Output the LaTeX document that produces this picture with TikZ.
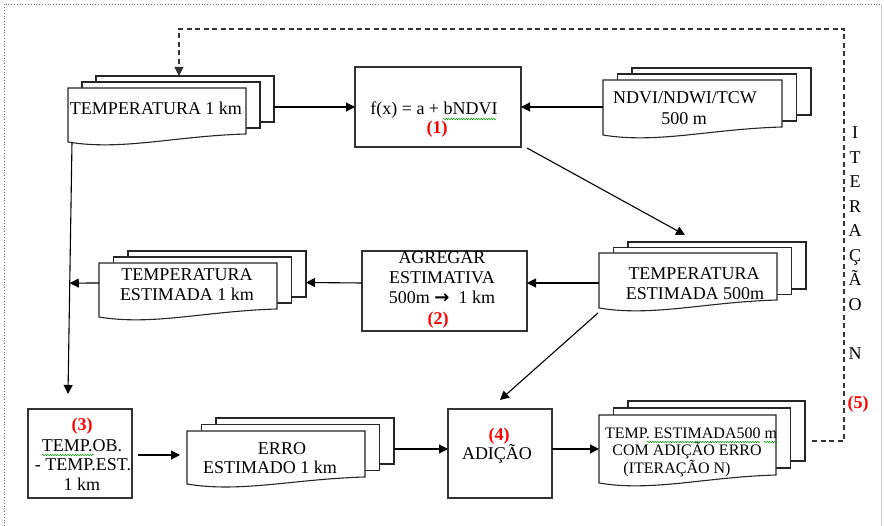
\documentclass[tikz,border=0pt]{standalone}
\usepackage{fontspec}
\setmainfont{Liberation Serif}
\newfontfamily\arrfont{DejaVu Sans}
\usetikzlibrary{arrows.meta,calc,decorations.pathmorphing}

\newcommand\mdoc[8]{%
  \pgfmathsetmacro\mdW{#4-#2}%
  \pgfmathsetmacro\mdH{#5-#3}%
  \node[docrect, minimum width=\mdW pt, minimum height=\mdH pt] (#1-b) at (#2+2*#7,#3-2*#8) {};
  \node[docrect, minimum width=\mdW pt, minimum height=\mdH pt] (#1-m) at (#2+#7,#3-#8) {};
  \draw[docline] (#2,#3) -- (#4,#3) -- (#4,#5)
     .. controls ({#2+0.6*\mdW},{#5+2}) and ({#2+0.3*\mdW},{#6+9}) .. (#2,#6) -- cycle;
  \node[docfront, minimum width=\mdW pt, minimum height=\mdH pt] (#1) at (#2,#3) {};
}

\begin{document}
\begin{tikzpicture}[x=1pt,y=-1pt, font=\fontsize{18}{21}\selectfont,
 docrect/.style={draw=black!85, line width=1.1pt, fill=white, anchor=north west, inner sep=0pt, outer sep=0pt},
 docfront/.style={draw=none, anchor=north west, inner sep=0pt, outer sep=0pt},
 docline/.style={draw=black!85, line width=1.1pt, fill=white},
 procbox/.style={draw=black!80, line width=1.2pt, anchor=north west, inner sep=0pt, outer sep=0pt},
 txt/.style={anchor=base, inner sep=0pt},
 smalltxt/.style={txt, font=\fontsize{16}{19}\selectfont},
 lbl/.style={txt, text=red, font=\fontsize{18}{21}\selectfont\bfseries},
 arr/.style={draw=black, line width=1.1pt, -{Triangle[length=9pt,width=9pt]}},
 looparr/.style={draw=black!80, line width=1.1pt, dash pattern=on 5pt off 3.5pt, -{Triangle[length=9pt,width=9pt]}},
 spell/.style={draw=green!60!black, line width=0.5pt, decorate, decoration={snake, amplitude=0.7pt, segment length=2.5pt}},
 framel/.style={draw=black!55, line width=0.8pt, dotted}]

\useasboundingbox (0,0) rectangle (884,526);

% outer frame
\draw[framel] (4,526) -- (4,4) -- (881,4);
\draw[black!20, line width=0.8pt] (881,4) -- (881,526);

% process boxes
\node[procbox, minimum width=166pt, minimum height=80pt] (fx) at (355,67) {};
\node[procbox, minimum width=165pt, minimum height=80pt] (ag) at (362,251) {};
\node[procbox, minimum width=104pt, minimum height=89pt] (b3) at (28,409) {};
\node[procbox, minimum width=104pt, minimum height=89pt] (add) at (448,409) {};

% multi-documents
\mdoc{tk}{68}{88}{246}{134}{142}{14}{6}
\mdoc{nd}{603}{80}{782}{127}{135}{14.5}{6}
\mdoc{te5}{599}{253}{777}{300}{308}{14.5}{5.5}
\mdoc{te1}{99}{263}{277}{309}{317}{14.5}{6}
\mdoc{er}{187}{431}{365}{477}{484}{14.5}{6.5}
\mdoc{fin}{599}{415}{776}{475}{483}{14.5}{7}

% texts
\node[txt] (tkT) at (156,115) {TEMPERATURA 1 km};
\node[txt] (fxT) at (434,115) {f(x) = a + bNDVI};
\node[lbl] (fxL) at (437,134) {(1)};
\node[txt] (ndT1) at (685,104) {NDVI/NDWI/TCW};
\node[txt] (ndT2) at (684,125) {500 m};
\node[txt] (te5T1) at (694,280) {TEMPERATURA};
\node[txt] (te5T2) at (695,300) {ESTIMADA 500m};
\node[txt] (agT1) at (442,264) {AGREGAR};
\node[txt] (agT2) at (442,284) {ESTIMATIVA};
\node[txt] (agT3) at (442,304) {500m\ {\arrfont\bfseries\fontsize{18}{20}\selectfont →}\ \ 1 km};
\node[lbl] (agL) at (438,325) {(2)};
\node[txt] (te1T1) at (187,281) {TEMPERATURA};
\node[txt] (te1T2) at (187,301) {ESTIMADA 1 km};
\node[lbl] (b3L) at (82,431) {(3)};
\node[txt] (b3T1) at (82,452) {TEMP.OB.};
\node[txt] (b3T2) at (83,471) {- TEMP.EST.};
\node[txt] (b3T3) at (82,491) {1 km};
\node[txt] (erT1) at (282,455) {ERRO};
\node[txt] (erT2) at (270,474) {ESTIMADO 1 km};
\node[lbl] (addL) at (499,441) {(4)};
\node[txt] (addT) at (497,460) {ADIÇÃO};
\node[smalltxt] (finT1) at (691,439) {TEMP. ESTIMADA500 m};
\node[smalltxt] (finT2) at (687,456) {COM ADIÇÃO ERRO};
\node[smalltxt] (finT3) at (677,474) {(ITERAÇÃO N)};

% vertical label
\foreach \L [count=\i from 0] in {I,T,E,R,A,Ç,Ã,O}
  \node[txt] (it\i) at (855,139+24.5*\i) {\L};
\node[txt] (itN) at (855,359.5) {N};
\node[lbl] (itL) at (858,409) {(5)};

% spell-check squiggles
\draw[spell] (443,119) -- (496,119);
\draw[spell] (42,455) -- (94,455);
\draw[spell] (647,442) -- (760,442);
\draw[spell] (764,442) -- (777,442);

% connectors
\draw[arr] ($(tk.south west)+(4,8)$) -- coordinate[pos=0.56] (vmid) ($(b3.north west)+(40,-15)$);
\draw[arr] ($(te1.west)+(0,-3)$) -- (vmid);
\draw[arr] (fx.west -| tk-b.east) -- (fx.west);
\draw[arr] (fx.east -| nd.west) -- (fx.east);
\draw[arr] ($(fx.south east)+(6,1)$) -- ($(te5-b.north west)+(57,-7)$);
\draw[arr] ($(te5.west)+(0,6.5)$) -- ($(ag.east)+(0,-8)$);
\draw[arr] ($(ag.west)+(0,-8)$) -- ($(te1-b.east)+(0,8.5)$);
\draw[arr] ($(b3.east)+(6,1.5)$) -- ($(er.west)+(-7,1)$);
\draw[arr] ($(er-b.east)+(0,8)$) -- ($(add.west)+(0,-4.5)$);
\draw[arr] ($(te5.south west)+(-1,13)$) -- ($(add.north)+(0,-9)$);
\draw[arr] ($(add.east)+(0,-4.5)$) -- ($(fin.west)+(0,4)$);

% iteration loop
\coordinate (lpA) at (844,441);
\coordinate (lpB) at (179,29);
\draw[looparr] ($(fin-b.east)+(7,10)$) -- (lpA) |- (lpB) -- (lpB |- tk-b.north);
\end{tikzpicture}
\end{document}
